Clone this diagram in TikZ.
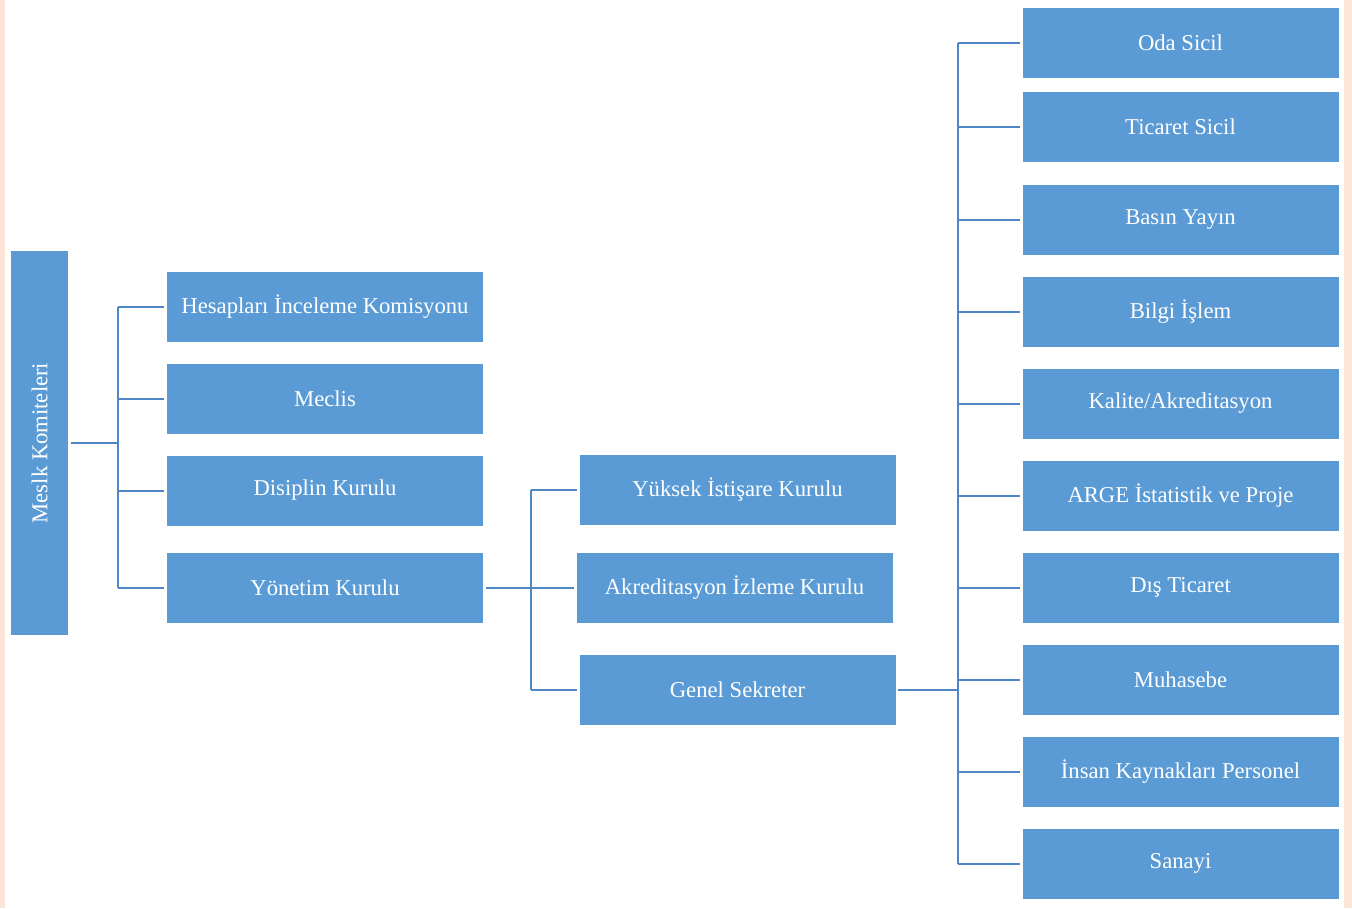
\documentclass[tikz,border=0pt]{standalone}
\usepackage{fontspec}
\setmainfont{Liberation Serif}
\definecolor{boxblue}{RGB}{91,155,213}
\definecolor{lineblue}{RGB}{79,134,198}
\definecolor{peach}{RGB}{252,229,214}
\tikzset{every picture/.style={line width=0.75pt}}
\tikzset{
  box/.style={fill=boxblue, text=white, inner sep=0pt, outer sep=2pt,
    minimum width=237pt, minimum height=52.5pt, font=\fontsize{17}{20}\selectfont},
  link/.style={draw=lineblue, line width=1.5pt},
}

\begin{document}
\begin{tikzpicture}[x=0.75pt,y=0.75pt,yscale=-1,xscale=1]
\useasboundingbox (0,0) rectangle (1352,908);

%Shape: Rectangle [background strips]
\fill [peach] (0,0) rectangle (5,908);
\fill [peach] (1344,0) rectangle (1352,908);

% Text Node
\draw (39.5,443) node [box, rotate=90, minimum width=288pt, minimum height=42.75pt] (mk) {Meslk Komiteleri};
% Text Node
\draw (325,306.5) node [box] (hic) {Hesapları İnceleme Komisyonu};
% Text Node
\draw (325,399) node [box] (mec) {Meclis};
% Text Node
\draw (325,490.5) node [box] (dk) {Disiplin Kurulu};
% Text Node
\draw (325,588) node [box] (yk) {Yönetim Kurulu};
% Text Node
\draw (737.5,489.5) node [box] (yik) {Yüksek İstişare Kurulu};
% Text Node
\draw (734.5,588) node [box] (aik) {Akreditasyon İzleme Kurulu};
% Text Node
\draw (737.5,689.5) node [box] (gs) {Genel Sekreter};
% Text Node
\draw (1180.5,42.5) node [box] (oda) {Oda Sicil};
% Text Node
\draw (1180.5,127) node [box] (tic) {Ticaret Sicil};
% Text Node
\draw (1180.5,219.5) node [box] (bas) {Basın Yayın};
% Text Node
\draw (1180.5,311.5) node [box] (bil) {Bilgi İşlem};
% Text Node
\draw (1180.5,403.5) node [box] (kal) {Kalite/Akreditasyon};
% Text Node
\draw (1180.5,495.5) node [box] (arg) {ARGE İstatistik ve Proje};
% Text Node
\draw (1180.5,587.5) node [box] (dis) {Dış Ticaret};
% Text Node
\draw (1180.5,679.5) node [box] (muh) {Muhasebe};
% Text Node
\draw (1180.5,771.5) node [box] (ins) {İnsan Kaynakları Personel};
% Text Node
\draw (1180.5,863.5) node [box] (san) {Sanayi};

%Straight Lines [first level]
\coordinate (b1) at (118,443);
\draw [link] (mk.south) -- (b1);
\draw [link] (b1 |- hic.west) -- (b1 |- yk.west);
\foreach \n in {hic,mec,dk,yk}
  \draw [link] (b1 |- \n.west) -- (\n.west);

%Straight Lines [second level]
\coordinate (b2) at (531,588);
\draw [link] (yk.east) -- (aik.west);
\draw [link] (b2 |- yik.west) -- (b2 |- gs.west);
\foreach \n in {yik,gs}
  \draw [link] (b2 |- \n.west) -- (\n.west);

%Straight Lines [third level]
\coordinate (b3) at (958,689.5);
\draw [link] (gs.east) -- (b3);
\draw [link] (b3 |- oda.west) -- (b3 |- san.west);
\foreach \n in {oda,tic,bas,bil,kal,arg,dis,muh,ins,san}
  \draw [link] (b3 |- \n.west) -- (\n.west);

\end{tikzpicture}
\end{document}
